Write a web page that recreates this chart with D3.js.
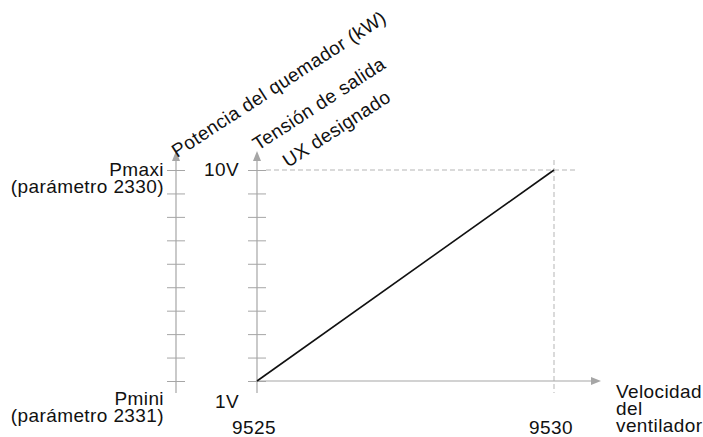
<!DOCTYPE html>
<html>
<head>
<meta charset="utf-8">
<script src="https://cdn.jsdelivr.net/npm/d3@7/dist/d3.min.js"></script>
<style>
    body { margin: 0; background: #fff; }
    text { font-family: 'Liberation Sans', Arial, sans-serif; font-size: 19px; letter-spacing: 0.4px; fill: #111; }
</style>
</head>
<body>
<svg></svg>
<script>
// fan speed (x) vs output voltage / burner power (y)
const speedTicks = [9525, 9530];
const voltDomain = [1, 10];
const voltLabels = ['1V', '10V'];
const voltTicks = [1, 2, 3, 4, 5, 6, 7, 8, 9, 10];
const powerLabels = [['Pmini', '(parámetro 2331)'], ['Pmaxi', '(parámetro 2330)']];
const lineSpeed = [9525, 9530];
const lineVolt = [1, 10];
const titlePower = 'Potencia del quemador (kW)';
const titleVolt = ['Tensión de salida', 'UX designado'];
const titleSpeed = ['Velocidad', 'del', 'ventilador'];

const width = 703;
const height = 437;
const axisGrey = '#a6a6a6';

let svg = d3.select('svg')
    .attr('width', width)
    .attr('height', height);

let xScale = d3.scaleLinear()
    .domain(d3.extent(speedTicks))
    .range([257, 554]);

let yScale = d3.scaleLinear()
    .domain(voltDomain)
    .range([381, 170]);

const leftX = 176;
const rightX = xScale(speedTicks[0]);

// dashed guides to the 10V / 9530 point
svg.append('line')
    .attr('x1', rightX + 9).attr('x2', 578)
    .attr('y1', yScale(10)).attr('y2', yScale(10))
    .attr('stroke', '#b5b5b5').attr('stroke-dasharray', '5,3');
svg.append('line')
    .attr('x1', xScale(9530)).attr('x2', xScale(9530))
    .attr('y1', 160).attr('y2', yScale(1) + 12)
    .attr('stroke', '#b5b5b5').attr('stroke-dasharray', '5,3');

// vertical axes with tick marks and arrows
[leftX, rightX].forEach(x => {
    let yAxis = d3.axisLeft(yScale)
        .tickValues(voltTicks)
        .tickSize(0)
        .tickFormat('');
    let g = svg.append('g')
        .attr('transform', `translate(${x},0)`)
        .call(yAxis);
    g.select('.domain').remove();
    g.selectAll('.tick line')
        .attr('x1', -9).attr('x2', 9)
        .attr('stroke', axisGrey);
    svg.append('line')
        .attr('x1', x).attr('x2', x)
        .attr('y1', 159).attr('y2', yScale(1) + 12)
        .attr('stroke', axisGrey).attr('stroke-width', 1.2);
    svg.append('path')
        .attr('d', `M${x},151 L${x - 4},161 L${x + 4},161 Z`)
        .attr('fill', axisGrey);
});

// horizontal axis
svg.append('line')
    .attr('x1', rightX).attr('x2', 593)
    .attr('y1', yScale(1)).attr('y2', yScale(1))
    .attr('stroke', axisGrey).attr('stroke-width', 1.2);
svg.append('path')
    .attr('d', `M601,${yScale(1)} L591,${yScale(1) - 4} L591,${yScale(1) + 4} Z`)
    .attr('fill', axisGrey);

// characteristic line
let line = d3.line()
    .x(d => xScale(d[0]))
    .y(d => yScale(d[1]));
svg.append('path')
    .datum(d3.zip(lineSpeed, lineVolt))
    .attr('d', line)
    .attr('fill', 'none')
    .attr('stroke', '#111')
    .attr('stroke-width', 1.6);

// tick labels
svg.selectAll('.speedLabel')
    .data(speedTicks)
    .enter().append('text')
        .attr('x', d => xScale(d) - 3)
        .attr('y', 434)
        .attr('text-anchor', 'middle')
        .text(d => d);

svg.selectAll('.voltLabel')
    .data(voltLabels)
    .enter().append('text')
        .attr('x', 239)
        .attr('y', (d, i) => i === 0 ? yScale(voltDomain[0]) + 27 : yScale(voltDomain[1]) + 6)
        .attr('text-anchor', 'end')
        .text(d => d);

svg.selectAll('.powerLabel')
    .data(powerLabels)
    .enter().append('text')
        .attr('x', 164)
        .attr('y', (d, i) => i === 0 ? yScale(voltDomain[0]) + 24 : yScale(voltDomain[1]) + 6)
        .attr('text-anchor', 'end')
        .selectAll('tspan')
        .data(d => d)
        .enter().append('tspan')
            .attr('x', 164)
            .attr('dy', (d, i) => i === 0 ? 0 : 16.5)
            .text(d => d);

// axis titles
svg.append('text')
    .attr('transform', 'translate(177,158) rotate(-33)')
    .text(titlePower);

svg.append('text')
    .attr('transform', 'translate(258,151) rotate(-33)')
    .text(titleVolt[0]);
svg.append('text')
    .attr('transform', 'translate(288,168) rotate(-33)')
    .text(titleVolt[1]);

svg.append('text')
    .attr('x', 616)
    .attr('y', 398)
    .selectAll('tspan')
    .data(titleSpeed)
    .enter().append('tspan')
        .attr('x', 616)
        .attr('dy', (d, i) => i === 0 ? 0 : 17)
        .text(d => d);
</script>
</body>
</html>
